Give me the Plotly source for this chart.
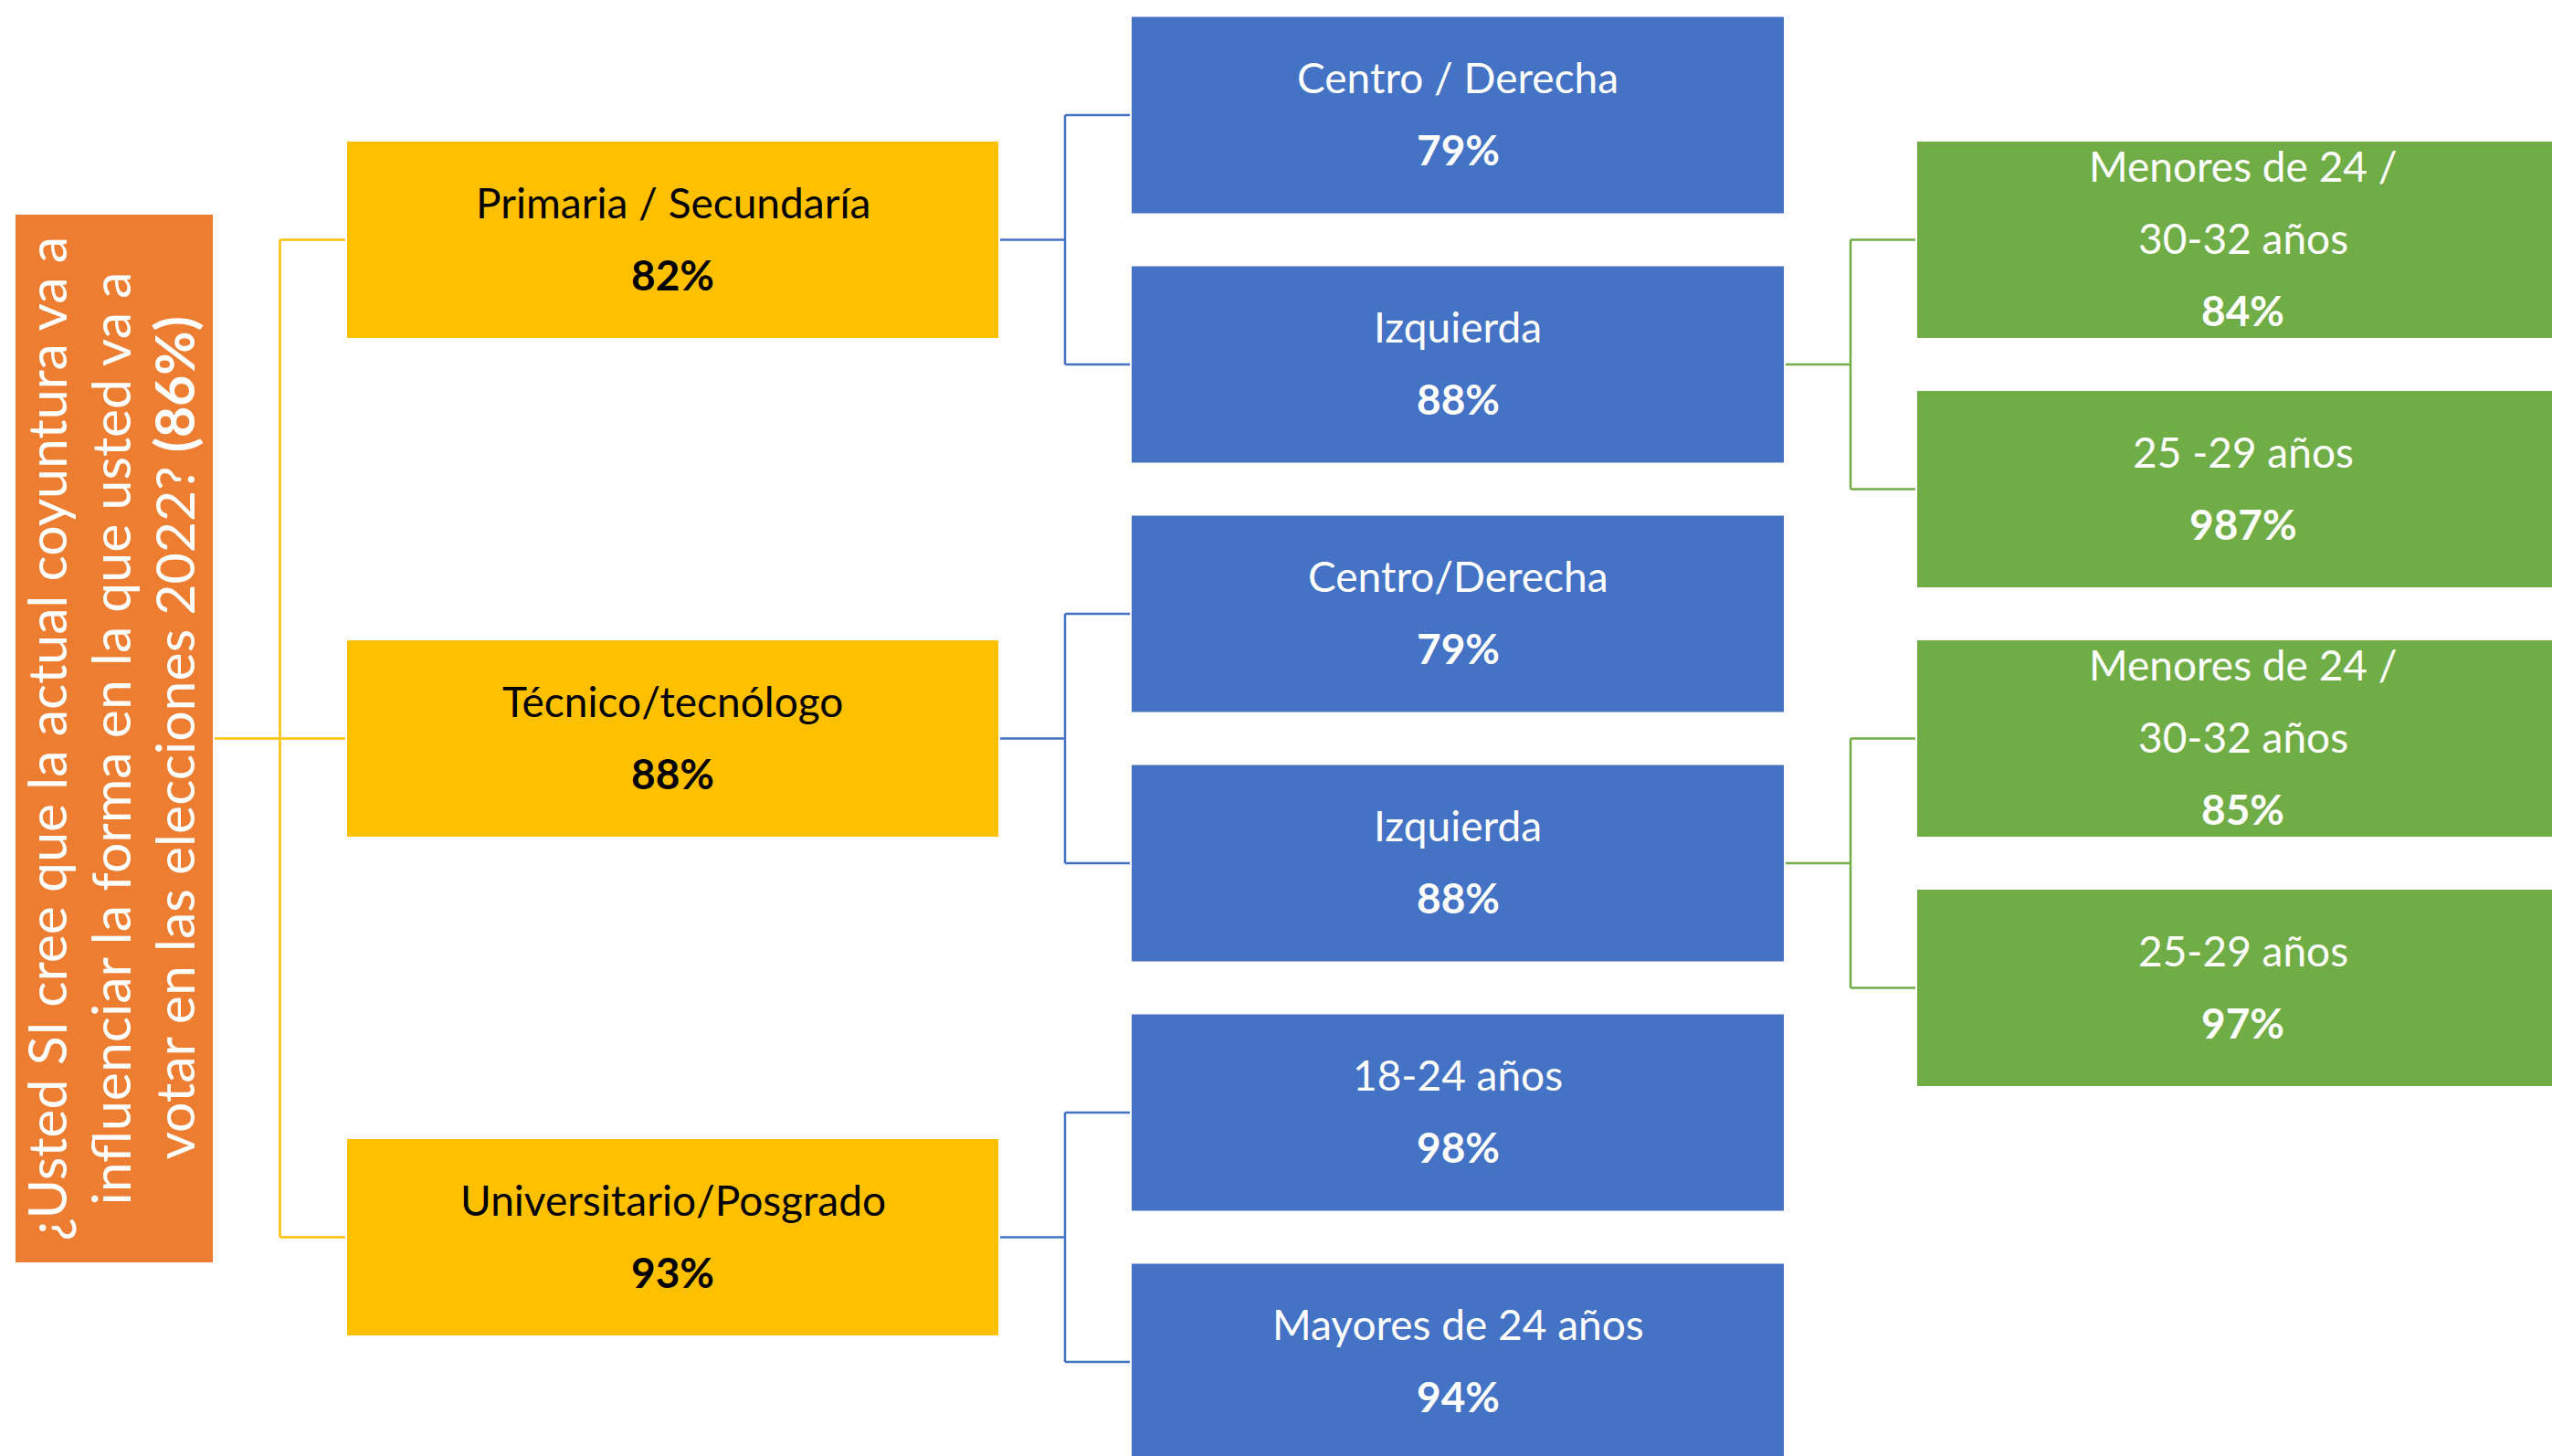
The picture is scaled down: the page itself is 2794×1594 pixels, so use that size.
import plotly.graph_objects as go

# datos
pregunta = ["¿Usted SI cree que la actual coyuntura va a",
            "influenciar la forma en la que usted va a",
            "votar en las elecciones 2022? <b>(86%)</b>"]
educacion = ["Primaria / Secundaría", "Técnico/tecnólogo", "Universitario/Posgrado"]
educacion_pct = [82, 88, 93]
segmento = ["Centro / Derecha", "Izquierda", "Centro/Derecha", "Izquierda",
            "18-24 años", "Mayores de 24 años"]
segmento_pct = [79, 88, 79, 88, 98, 94]
segmento_padre = [0, 0, 1, 1, 2, 2]
edad = ["Menores de 24 /<br>30-32 años", "25 -29 años",
        "Menores de 24 /<br>30-32 años", "25-29 años"]
edad_pct = [84, 987, 85, 97]
edad_padre = [1, 1, 3, 3]

W, H = 2794, 1594
NARANJA, AMARILLO, AZUL, VERDE = "#ED7D31", "#FFC000", "#4472C4", "#70AD47"
FUENTE = "Lato"
FS = 46
FS_RAIZ = 59
ALTO = 215
PASO = 273
INTERLINEA = 79

# columnas (x0, x1)
col_raiz = (17, 233)
col_edu = (380, 1093)
col_seg = (1239, 1953)
col_edad = (2099, 2812)

# posiciones verticales
seg_y = [126 + PASO * i for i in range(len(segmento))]
edu_y = []
for i in range(len(educacion)):
    hijos = [seg_y[j] for j, p in enumerate(segmento_padre) if p == i]
    edu_y.append(sum(hijos) / len(hijos))
edad_y = []
for j, p in enumerate(edad_padre):
    hermanos = [k for k, q in enumerate(edad_padre) if q == p]
    n = len(hermanos)
    k = hermanos.index(j)
    edad_y.append(seg_y[p] + (k - (n - 1) / 2) * PASO)
raiz_y = edu_y[1]

fig = go.Figure()
shapes = []
annotations = []


def caja(col, yc, h, color):
    shapes.append(dict(type="rect", x0=col[0], x1=col[1], y0=yc - h / 2, y1=yc + h / 2,
                       fillcolor=color, line=dict(width=0), layer="below"))


def textos(col, yc, etiqueta, pct, color):
    lineas = etiqueta.split("<br>") + ["<b>%d%%</b>" % pct]
    n = len(lineas)
    xc = (col[0] + col[1]) / 2
    for k, t in enumerate(lineas):
        annotations.append(dict(x=xc, y=yc - 2 + (k - (n - 1) / 2) * INTERLINEA, text=t,
                                showarrow=False, xanchor="center", yanchor="middle",
                                font=dict(family=FUENTE, size=FS, color=color)))


def conector(x_padre, x_hijo, y_padre, ys_hijos, color):
    xm = (x_padre + x_hijo) / 2
    estilo = dict(color=color, width=2.5)
    shapes.append(dict(type="line", x0=x_padre + 2, x1=xm, y0=y_padre, y1=y_padre, line=estilo))
    shapes.append(dict(type="line", x0=xm, x1=xm, y0=min(ys_hijos), y1=max(ys_hijos), line=estilo))
    for y in ys_hijos:
        shapes.append(dict(type="line", x0=xm, x1=x_hijo - 2, y0=y, y1=y, line=estilo))


# raiz
caja(col_raiz, raiz_y, 1147, NARANJA)
for k, t in enumerate(pregunta):
    annotations.append(dict(x=50 + 70 * k, y=raiz_y, text=t, textangle=-90,
                            showarrow=False, xanchor="center", yanchor="middle",
                            font=dict(family=FUENTE, size=FS_RAIZ, color="white")))
conector(col_raiz[1], col_edu[0], raiz_y, edu_y, AMARILLO)

for i, (lab, pct) in enumerate(zip(educacion, educacion_pct)):
    caja(col_edu, edu_y[i], ALTO, AMARILLO)
    textos(col_edu, edu_y[i], lab, pct, "black")
    hijos = [seg_y[j] for j, p in enumerate(segmento_padre) if p == i]
    conector(col_edu[1], col_seg[0], edu_y[i], hijos, AZUL)

for j, (lab, pct) in enumerate(zip(segmento, segmento_pct)):
    caja(col_seg, seg_y[j], ALTO, AZUL)
    textos(col_seg, seg_y[j], lab, pct, "white")
    hijos = [edad_y[k] for k, p in enumerate(edad_padre) if p == j]
    if hijos:
        conector(col_seg[1], col_edad[0], seg_y[j], hijos, VERDE)

for k, (lab, pct) in enumerate(zip(edad, edad_pct)):
    caja(col_edad, edad_y[k], ALTO, VERDE)
    textos(col_edad, edad_y[k], lab, pct, "white")

fig.add_trace(go.Scatter(x=[0, W], y=[0, H], mode="markers", marker=dict(opacity=0),
                         hoverinfo="skip", showlegend=False))
fig.update_layout(
    width=W, height=H, margin=dict(l=0, r=0, t=0, b=0),
    paper_bgcolor="white", plot_bgcolor="white",
    shapes=shapes, annotations=annotations, showlegend=False,
    xaxis=dict(range=[0, W], visible=False, fixedrange=True),
    yaxis=dict(range=[H, 0], visible=False, fixedrange=True),
)
# sin margen en el body para que la figura ocupe toda la ventana
fig.write_html("out.html", config={"displayModeBar": False},
               post_script="document.body.style.margin='0';document.body.style.overflow='hidden';")
